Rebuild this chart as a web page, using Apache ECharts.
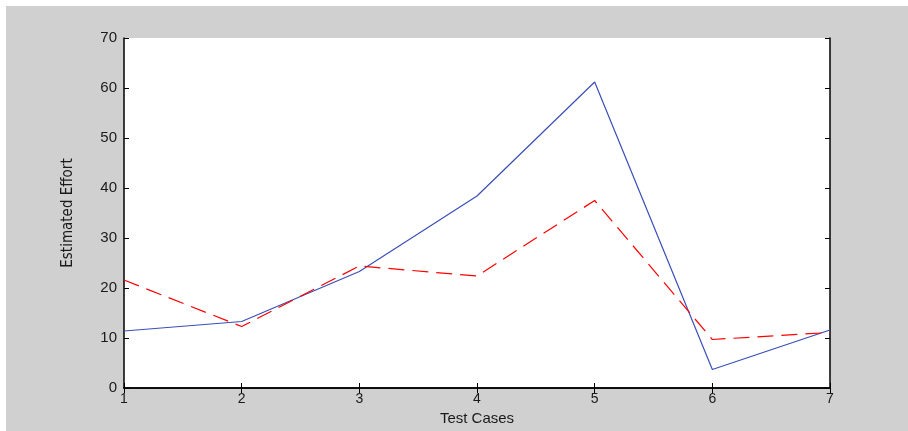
<!DOCTYPE html>
<html>
<head>
<meta charset="utf-8">
<script src="https://cdn.jsdelivr.net/npm/echarts@6/dist/echarts.min.js"></script>
<style>
  html, body { margin: 0; padding: 0; background: #fff; }
  #chart { position: absolute; left: 6px; top: 6px; width: 902px; height: 425px; }
</style>
</head>
<body>
<div id="chart"></div>
<script>
const testCases = [1, 2, 3, 4, 5, 6, 7];
const blueEffort = [11.4, 13.3, 23.3, 38.4, 61.2, 3.7, 11.6];
const redEffort = [21.6, 12.3, 24.4, 22.4, 37.5, 9.7, 11.1];

const tickFont = { color: '#1a1a1a', fontSize: 14, fontFamily: 'Liberation Sans, Arial, sans-serif' };

const axisBase = {
  type: 'value',
  interval: 1,
  axisLine: { show: true, lineStyle: { color: '#000', width: 1.5 } },
  axisTick: { show: true, inside: true, length: 5, lineStyle: { color: '#000' } },
  splitLine: { show: false },
};

const chart = echarts.init(document.getElementById('chart'));
chart.setOption({
  backgroundColor: '#d0d0d0',
  animation: false,
  grid: {
    left: 118, right: 78, top: 32, bottom: 43,
    show: true, backgroundColor: '#fff', borderWidth: 0,
  },
  xAxis: [
    {
      ...axisBase, min: 1, max: 7, position: 'bottom',
      axisLabel: { ...tickFont, margin: 4 },
      name: 'Test Cases', nameLocation: 'middle', nameGap: 22,
      nameTextStyle: { ...tickFont, fontSize: 15 },
    },
    {
      ...axisBase, min: 1, max: 7, position: 'top',
      axisLabel: { show: false },
    },
  ],
  yAxis: [
    {
      ...axisBase, min: 0, max: 70, interval: 10, position: 'left',
      axisLabel: { ...tickFont, fontSize: 15, margin: 7 },
      name: 'Estimated Effort', nameLocation: 'middle', nameGap: 48,
      nameTextStyle: { ...tickFont, fontSize: 15, fontFamily: 'Liberation Sans Narrow, DejaVu Sans Condensed, sans-serif' },
    },
    {
      ...axisBase, min: 0, max: 70, interval: 10, position: 'right',
      axisLabel: { show: false },
    },
  ],
  series: [
    {
      type: 'line',
      data: testCases.map((x, i) => [x, blueEffort[i]]),
      symbol: 'none',
      lineStyle: { color: '#3a4fb8', width: 1.2 },
    },
    {
      type: 'line',
      data: testCases.map((x, i) => [x, redEffort[i]]),
      symbol: 'none',
      lineStyle: { color: '#ff0000', width: 1.2, type: [16, 8] },
    },
  ],
});
</script>
</body>
</html>
